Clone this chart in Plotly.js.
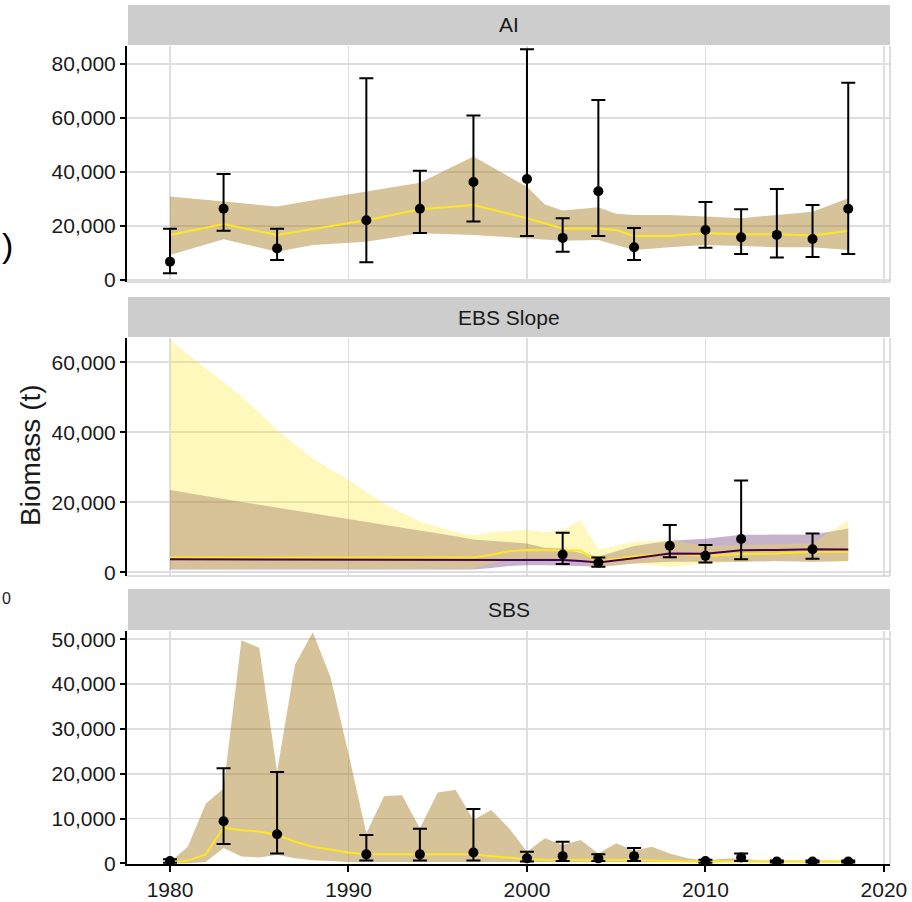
<!DOCTYPE html>
<html>
<head>
<meta charset="utf-8">
<script src="https://cdn.plot.ly/plotly-3.0.1.min.js"></script>
<style>html,body{margin:0;padding:0;background:#fff;}#chart{width:912px;height:902px;}</style>
</head>
<body>
<div id="chart"></div>
<script>
// ---------- AI ----------
const aiSurveyYears   = [1980,1983,1986,1991,1994,1997,2000,2002,2004,2006,2010,2012,2014,2016,2018];
const aiSurveyBiomass = [6800,26400,11700,22100,26400,36300,37400,15600,32900,12100,18500,15800,16700,15200,26400];
const aiSurveyUpper   = [19000,39300,19000,74700,40500,60900,85500,22900,66700,19300,28900,26200,33700,27800,73100];
const aiSurveyLower   = [2500,18200,7400,6600,17400,21700,16300,10500,16300,7400,11900,9600,8300,8500,9600];

const aiModelYears = [1980,1983,1986,1988,1991,1994,1997,2000,2001,2002,2004,2005,2006,2008,2010,2012,2014,2016,2018];
const aiModelEst   = [16700,20700,16700,18800,22100,26200,27800,22900,21000,19100,19100,18500,16300,16300,17300,16900,16900,16500,18200];
const aiModelUpper = [30900,29000,27200,29500,32700,36000,45700,34500,28000,25700,26900,24500,24100,24100,23500,22900,24100,25300,30300];
const aiModelLower = [9300,15100,10500,13000,14200,17300,16700,15400,15000,14500,14800,13000,11100,12100,13000,12600,12100,12100,11100];

// ---------- EBS Slope ----------
const ebsSurveyYears   = [2002,2004,2008,2010,2012,2016];
const ebsSurveyBiomass = [5100,2800,7600,4700,9500,6600];
const ebsSurveyUpper   = [11300,4200,13500,7800,26200,11100];
const ebsSurveyLower   = [2400,1600,4300,2800,3700,3900];

const ebsModelYears = [1980,1981,1982,1983,1984,1985,1986,1988,1990,1992,1994,1996,1997,1998,1999,2000,2001,2002,2003,2004,2006,2008,2010,2012,2014,2016,2018];
// model A (yellow)
const ebsYellowEst   = [4200,4200,4200,4200,4200,4200,4200,4200,4200,4200,4200,4200,4200,5000,6000,6400,6300,6100,6200,3000,4600,5300,4700,5200,5400,5900,5900];
const ebsYellowUpper = [66400,62200,58200,54400,50200,45600,40600,32500,26400,19500,14500,11500,10600,11500,11900,12100,11500,12100,14900,6500,8700,9200,7500,7800,8000,8300,14900];
const ebsYellowLower = [1000,1000,1000,1000,1000,1000,1000,1000,1000,1000,1000,1000,1000,2500,3500,4000,4000,4000,3000,1500,2500,1500,2500,3000,3200,3000,3000];
// model B (purple)
const ebsPurpleEst   = [3700,3700,3700,3700,3700,3700,3700,3700,3700,3700,3700,3700,3700,3700,3700,3700,3700,3500,3200,2800,4000,5400,5300,6300,6400,6600,6500];
const ebsPurpleUpper = [23500,22600,21800,20900,20100,19300,18500,16800,15100,13500,12000,10300,9400,9000,8600,8200,7000,6800,5500,4500,7500,9000,9600,10700,10800,10700,12500];
const ebsPurpleLower = [800,800,800,800,800,800,800,800,800,800,800,800,800,1200,1800,2000,2000,2000,1800,1500,2500,3000,3000,3000,3200,3000,3200];

// ---------- SBS ----------
const sbsSurveyYears   = [1980,1983,1986,1991,1994,1997,2000,2002,2004,2006,2010,2012,2014,2016,2018];
const sbsSurveyBiomass = [500,9400,6500,2000,2000,2400,1100,1600,1100,1600,500,1300,400,400,400];
const sbsSurveyUpper   = [900,21200,20400,6300,7700,12100,2600,4800,2000,3400,800,2200,600,600,600];
const sbsSurveyLower   = [100,4300,2200,600,600,600,400,500,500,500,100,500,200,200,200];

const sbsModelYears = [1980,1981,1982,1983,1984,1985,1986,1987,1988,1989,1990,1991,1992,1993,1994,1995,1996,1997,1998,1999,2000,2001,2002,2003,2004,2005,2006,2007,2008,2009,2010,2011,2012,2013,2014,2015,2016,2017,2018];
const sbsModelEst   = [200,600,2000,8000,7400,7100,6300,4800,3700,3000,2400,2000,2000,2000,2000,2000,2000,2000,1600,1300,900,800,750,750,750,750,750,600,400,400,400,400,400,400,400,400,400,400,400];
const sbsModelUpper = [300,3700,13300,16700,49800,48100,20500,44300,51600,41500,24500,6700,15000,15200,7800,15800,16400,9700,11900,7800,2600,5600,4100,5200,2200,4500,2800,3700,2200,1100,600,1000,1100,600,600,600,600,600,600];
const sbsModelLower = [0,0,300,3400,1500,1300,1900,1100,700,500,300,300,300,300,300,300,300,300,300,300,200,200,200,200,200,200,200,200,200,200,200,200,200,200,200,200,200,200,200];

const panelTitles = ["AI","EBS Slope","SBS"];
const yTickVals = [[0,20000,40000,60000,80000],[0,20000,40000,60000],[0,10000,20000,30000,40000,50000]];
const xTickVals = [1980,1990,2000,2010,2020];

// ---------- styling / geometry ----------
const W = 912, H = 902;
const FONT = "Liberation Sans, Arial, Helvetica, sans-serif";
const YELLOW = "#FDE725", PURPLE = "#440154";
const TAN_FILL = "rgba(166,122,31,0.45)";
const YEL_FILL = "rgba(253,231,37,0.30)";
const PUR_FILL = "rgba(68,1,84,0.30)";
const GRID = "#DEDEDE";
const xL = 127, xR = 890;
const panels = [
  {top:46,  bot:282, stripTop:5,   stripBot:45,  yr:[-741, 86667]},
  {top:338, bot:576, stripTop:297, stripBot:337, yr:[-1057, 66943]},
  {top:631, bot:864, stripTop:589, stripBot:630, yr:[-156, 51853]}
];
const px = v => v / W;
const py = v => 1 - v / H;

function ribbon(xs, lo, hi, color, xa, ya) {
  return {type:"scatter", mode:"lines", xaxis:xa, yaxis:ya,
    x: xs.concat(xs.slice().reverse()),
    y: hi.concat(lo.slice().reverse()),
    fill:"toself", fillcolor:color, line:{width:0, color:"rgba(0,0,0,0)"},
    hoverinfo:"skip", showlegend:false};
}
function line(xs, ys, color, xa, ya) {
  return {type:"scatter", mode:"lines", x:xs, y:ys, xaxis:xa, yaxis:ya,
    line:{color:color, width:2}, showlegend:false, hoverinfo:"skip"};
}
function survey(xs, b, up, lo, xa, ya) {
  return {type:"scatter", mode:"markers", x:xs, y:b, xaxis:xa, yaxis:ya,
    marker:{color:"#000", size:10},
    error_y:{type:"data", symmetric:false,
      array: up.map((u,i)=>u-b[i]), arrayminus: lo.map((l,i)=>b[i]-l),
      color:"#000", thickness:2, width:7},
    showlegend:false};
}

const traces = [
  ribbon(aiModelYears, aiModelLower, aiModelUpper, TAN_FILL, "x", "y"),
  line(aiModelYears, aiModelEst, YELLOW, "x", "y"),
  survey(aiSurveyYears, aiSurveyBiomass, aiSurveyUpper, aiSurveyLower, "x", "y"),

  ribbon(ebsModelYears, ebsPurpleLower, ebsPurpleUpper, PUR_FILL, "x2", "y2"),
  ribbon(ebsModelYears, ebsYellowLower, ebsYellowUpper, YEL_FILL, "x2", "y2"),
  line(ebsModelYears, ebsYellowEst, YELLOW, "x2", "y2"),
  line(ebsModelYears, ebsPurpleEst, PURPLE, "x2", "y2"),
  survey(ebsSurveyYears, ebsSurveyBiomass, ebsSurveyUpper, ebsSurveyLower, "x2", "y2"),

  ribbon(sbsModelYears, sbsModelLower, sbsModelUpper, TAN_FILL, "x3", "y3"),
  line(sbsModelYears, sbsModelEst, YELLOW, "x3", "y3"),
  survey(sbsSurveyYears, sbsSurveyBiomass, sbsSurveyUpper, sbsSurveyLower, "x3", "y3")
];

const tickFont = {family:FONT, size:21, color:"#1a1a1a"};
const layout = {
  width:W, height:H, margin:{l:0,r:0,t:0,b:0},
  paper_bgcolor:"#fff", plot_bgcolor:"#fff", showlegend:false,
  font:{family:FONT, color:"#1a1a1a"},
  shapes:[], annotations:[]
};
const xRange = [1977.59, 2020.34];
panels.forEach((p, i) => {
  const n = i === 0 ? "" : String(i+1);
  const isBottom = i === 2;
  layout["xaxis"+n] = {
    domain:[px(xL), px(xR)], anchor:"y"+n, range:xRange,
    tickvals:xTickVals, ticktext:xTickVals.map(String),
    showgrid:true, gridcolor:GRID, gridwidth:1.8, zeroline:false,
    showticklabels:isBottom, ticks:isBottom?"outside":"", ticklen:6, tickwidth:2, tickcolor:"#000",
    showline:isBottom, linecolor:"#000", linewidth:2,
    tickfont:tickFont, automargin:false, fixedrange:true
  };
  layout["yaxis"+n] = {
    domain:[py(p.bot), py(p.top)], anchor:"x"+n, range:p.yr,
    tickvals:yTickVals[i], tickformat:",",
    showgrid:true, gridcolor:GRID, gridwidth:1.8, zeroline:false,
    ticks:"outside", ticklen:5, tickwidth:2, tickcolor:"#000",
    showline:true, linecolor:"#000", linewidth:2,
    tickfont:tickFont, automargin:false, fixedrange:true
  };
  layout.shapes.push({type:"rect", xref:"paper", yref:"paper",
    x0:px(xL+1), x1:px(xR), y0:py(p.stripBot), y1:py(p.stripTop),
    fillcolor:"#CDCDCD", line:{width:0}, layer:"below"});
  layout.annotations.push({xref:"paper", yref:"paper", x:px((xL+xR)/2), y:py((p.stripTop+p.stripBot)/2),
    text:panelTitles[i], showarrow:false, font:{family:FONT, size:21, color:"#1a1a1a"},
    xanchor:"center", yanchor:"middle"});
  layout.shapes.push({type:"line", xref:"paper", yref:"paper",
    x0:px(xR), x1:px(xR), y0:py(p.bot), y1:py(p.top), line:{color:"#D2D2D2", width:1.5}, layer:"above"});
  if (!isBottom) {
    layout.shapes.push({type:"line", xref:"paper", yref:"paper",
      x0:px(xL), x1:px(xR), y0:py(p.bot), y1:py(p.bot), line:{color:"#D2D2D2", width:1.5}, layer:"above"});
  }
});
layout.annotations.push({xref:"paper", yref:"paper", x:px(31), y:py(455), text:"Biomass (t)",
  textangle:-90, showarrow:false, font:{family:FONT, size:28, color:"#1a1a1a"}, xanchor:"center", yanchor:"middle"});
// small fragments seen at the far left edge of the source image
layout.annotations.push({xref:"paper", yref:"paper", x:px(0), y:py(245), text:")",
  showarrow:false, font:{family:FONT, size:34, color:"#000"}, xanchor:"left", yanchor:"middle"});
layout.annotations.push({xref:"paper", yref:"paper", x:px(0), y:py(598), text:"0",
  showarrow:false, font:{family:FONT, size:16, color:"#1a1a1a"}, xanchor:"left", yanchor:"middle"});

Plotly.newPlot("chart", traces, layout, {staticPlot:true, displayModeBar:false});
</script>
</body>
</html>
